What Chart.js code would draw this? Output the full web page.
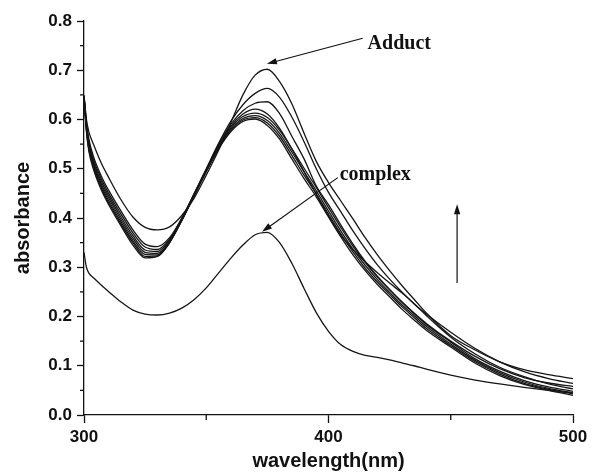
<!DOCTYPE html>
<html>
<head>
<meta charset="utf-8">
<script src="https://cdn.jsdelivr.net/npm/chart.js@4/dist/chart.umd.min.js"></script>
<style>
  html, body { margin: 0; padding: 0; background: #fff; }
  #wrap { width: 593px; height: 473px; }
</style>
</head>
<body>
<div id="wrap"><canvas id="spectraChart" width="593" height="473"></canvas></div>
<script>
// wavelength grid (nm), denser near 300 where the spectra fall steeply
var wavelengths = [300, 301, 302, 304, 307, 310, 315, 320, 325, 330, 335, 340, 345, 350, 355, 360, 365, 370, 375, 380,
    385, 390, 395, 400, 405, 410, 415, 420, 425, 430, 435, 440, 450, 460, 470, 480, 490, 500];

// absorbance of the starting complex
var complexAbs = [0.330, 0.300, 0.288, 0.278, 0.264, 0.251, 0.230, 0.213, 0.205, 0.203, 0.207, 0.217, 0.234, 0.258, 0.288, 0.318, 0.345, 0.366, 0.371, 0.350,
    0.308, 0.257, 0.208, 0.170, 0.143, 0.129, 0.121, 0.117, 0.112, 0.106, 0.100, 0.093, 0.081, 0.071, 0.063, 0.056, 0.050, 0.045];

// titration scans, first to last
var scan1 = [0.645, 0.575, 0.535, 0.497, 0.458, 0.428, 0.385, 0.345, 0.319, 0.322, 0.350, 0.395, 0.445, 0.495, 0.540, 0.575, 0.596, 0.601, 0.588, 0.560,
    0.520, 0.480, 0.443, 0.402, 0.362, 0.325, 0.293, 0.265, 0.240, 0.215, 0.193, 0.172, 0.138, 0.105, 0.080, 0.062, 0.050, 0.040];
var scan2 = [0.645, 0.578, 0.539, 0.501, 0.462, 0.432, 0.389, 0.350, 0.322, 0.323, 0.350, 0.395, 0.445, 0.495, 0.541, 0.577, 0.599, 0.604, 0.593, 0.566,
    0.527, 0.487, 0.449, 0.408, 0.368, 0.331, 0.298, 0.270, 0.245, 0.220, 0.198, 0.176, 0.141, 0.108, 0.083, 0.064, 0.052, 0.043];
var scan3 = [0.646, 0.581, 0.543, 0.505, 0.466, 0.436, 0.393, 0.354, 0.326, 0.325, 0.351, 0.396, 0.445, 0.495, 0.542, 0.580, 0.602, 0.608, 0.598, 0.572,
    0.534, 0.494, 0.455, 0.414, 0.374, 0.337, 0.304, 0.275, 0.249, 0.224, 0.202, 0.180, 0.144, 0.111, 0.086, 0.067, 0.054, 0.045];
var scan4 = [0.646, 0.584, 0.547, 0.509, 0.470, 0.441, 0.398, 0.359, 0.330, 0.328, 0.352, 0.396, 0.446, 0.496, 0.544, 0.583, 0.606, 0.613, 0.604, 0.578,
    0.541, 0.501, 0.462, 0.421, 0.381, 0.343, 0.310, 0.280, 0.254, 0.229, 0.206, 0.184, 0.148, 0.114, 0.089, 0.070, 0.057, 0.048];
var scan5 = [0.647, 0.587, 0.551, 0.513, 0.475, 0.446, 0.403, 0.364, 0.335, 0.332, 0.355, 0.398, 0.447, 0.497, 0.546, 0.586, 0.611, 0.621, 0.611, 0.582,
    0.540, 0.494, 0.448, 0.404, 0.366, 0.336, 0.311, 0.289, 0.268, 0.248, 0.226, 0.202, 0.158, 0.124, 0.097, 0.078, 0.063, 0.053];
var scan6 = [0.647, 0.590, 0.555, 0.518, 0.480, 0.451, 0.409, 0.370, 0.341, 0.336, 0.357, 0.399, 0.448, 0.498, 0.548, 0.590, 0.618, 0.633, 0.636, 0.612,
    0.566, 0.520, 0.465, 0.427, 0.386, 0.347, 0.312, 0.282, 0.255, 0.230, 0.207, 0.186, 0.150, 0.119, 0.094, 0.076, 0.065, 0.058];
var scan7 = [0.648, 0.594, 0.560, 0.523, 0.486, 0.457, 0.415, 0.376, 0.347, 0.342, 0.360, 0.400, 0.449, 0.500, 0.551, 0.596, 0.630, 0.653, 0.663, 0.645,
    0.605, 0.555, 0.500, 0.452, 0.413, 0.374, 0.338, 0.305, 0.276, 0.250, 0.226, 0.205, 0.168, 0.135, 0.108, 0.088, 0.074, 0.064];
var adductAbs = [0.649, 0.600, 0.575, 0.548, 0.512, 0.483, 0.438, 0.402, 0.381, 0.376, 0.382, 0.405, 0.440, 0.487, 0.537, 0.593, 0.650, 0.690, 0.702, 0.677,
    0.632, 0.572, 0.515, 0.472, 0.435, 0.398, 0.360, 0.325, 0.293, 0.263, 0.235, 0.207, 0.161, 0.132, 0.108, 0.092, 0.082, 0.074];

var xTicks = [300, 400, 500];
var xMinorTicks = [350, 450];
var yMinorTicks = [0.05, 0.15, 0.25, 0.35, 0.45, 0.55, 0.65, 0.75];

var labelFont = { family: 'Liberation Sans, Arial, sans-serif', size: 17, weight: 'bold' };
var titleFont = { family: 'Liberation Sans, Arial, sans-serif', size: 20, weight: 'bold' };
var noteFont = 'bold 20px "Liberation Serif", "Times New Roman", serif';

function toPoints(values) {
    return wavelengths.map(function (w, i) { return { x: w, y: values[i] }; });
}

function lineSet(label, values) {
    return {
        label: label,
        data: toPoints(values),
        borderColor: '#161616',
        borderWidth: 1.3,
        pointRadius: 0,
        fill: false,
        cubicInterpolationMode: 'monotone'
    };
}

// arrow from (x1,y1) to (x2,y2) given in data units, head at the end
function drawArrow(ctx, chart, x1, y1, x2, y2) {
    var sx = chart.scales.x, sy = chart.scales.y;
    var ax = sx.getPixelForValue(x1), ay = sy.getPixelForValue(y1);
    var bx = sx.getPixelForValue(x2), by = sy.getPixelForValue(y2);
    var ang = Math.atan2(by - ay, bx - ax);
    var len = 10, half = 3.2;
    ctx.beginPath();
    ctx.moveTo(ax, ay);
    ctx.lineTo(bx - Math.cos(ang) * len * 0.8, by - Math.sin(ang) * len * 0.8);
    ctx.stroke();
    ctx.beginPath();
    ctx.moveTo(bx, by);
    ctx.lineTo(bx - Math.cos(ang) * len - Math.sin(ang) * half, by - Math.sin(ang) * len + Math.cos(ang) * half);
    ctx.lineTo(bx - Math.cos(ang) * len + Math.sin(ang) * half, by - Math.sin(ang) * len - Math.cos(ang) * half);
    ctx.closePath();
    ctx.fill();
}

var annotations = {
    id: 'annotations',
    afterDraw: function (chart) {
        var ctx = chart.ctx, sx = chart.scales.x, sy = chart.scales.y;
        ctx.save();
        ctx.strokeStyle = '#111';
        ctx.fillStyle = '#111';
        ctx.lineWidth = 1.3;

        // minor ticks
        yMinorTicks.forEach(function (v) {
            var py = sy.getPixelForValue(v);
            ctx.beginPath();
            ctx.moveTo(sx.left - 4, py);
            ctx.lineTo(sx.left, py);
            ctx.stroke();
        });
        xMinorTicks.forEach(function (v) {
            var px = sx.getPixelForValue(v);
            ctx.beginPath();
            ctx.moveTo(px, sy.bottom);
            ctx.lineTo(px, sy.bottom + 5);
            ctx.stroke();
        });

        // labels with pointers
        ctx.lineWidth = 1.2;
        drawArrow(ctx, chart, 414, 0.765, 374.8, 0.713);
        drawArrow(ctx, chart, 403.8, 0.482, 372.8, 0.372);
        drawArrow(ctx, chart, 452.6, 0.268, 452.6, 0.428);

        ctx.font = noteFont;
        ctx.textBaseline = 'middle';
        ctx.textAlign = 'left';
        ctx.fillText('Adduct', sx.getPixelForValue(416), sy.getPixelForValue(0.753));
        ctx.fillText('complex', sx.getPixelForValue(404.6), sy.getPixelForValue(0.488));
        ctx.restore();
    }
};

var ctx = document.getElementById('spectraChart').getContext('2d');
new Chart(ctx, {
    type: 'line',
    data: {
        datasets: [
            lineSet('complex', complexAbs),
            lineSet('scan 1', scan1),
            lineSet('scan 2', scan2),
            lineSet('scan 3', scan3),
            lineSet('scan 4', scan4),
            lineSet('scan 5', scan5),
            lineSet('scan 6', scan6),
            lineSet('scan 7', scan7),
            lineSet('Adduct', adductAbs)
        ]
    },
    options: {
        responsive: false,
        animation: false,
        layout: { padding: { top: 21, right: 20, left: 0, bottom: 0 } },
        plugins: {
            legend: { display: false },
            tooltip: { enabled: false }
        },
        scales: {
            x: {
                type: 'linear',
                min: 300,
                max: 500,
                afterBuildTicks: function (scale) {
                    scale.ticks = xTicks.map(function (v) { return { value: v }; });
                },
                afterFit: function (scale) { scale.height = 58; },
                ticks: { font: labelFont, color: '#111', padding: 4, maxRotation: 0 },
                grid: { drawOnChartArea: false, tickLength: 8, tickColor: '#111', tickWidth: 1.3 },
                border: { color: '#111', width: 1.3 },
                title: { display: true, text: 'wavelength(nm)', font: titleFont, color: '#111', padding: { top: 0, bottom: 0 } }
            },
            y: {
                min: 0,
                max: 0.8,
                ticks: {
                    stepSize: 0.1,
                    font: labelFont,
                    color: '#111',
                    padding: 5,
                    callback: function (v) { return v.toFixed(1); }
                },
                afterFit: function (scale) { scale.width = 84; },
                grid: { drawOnChartArea: false, tickLength: 7, tickColor: '#111', tickWidth: 1.3 },
                border: { color: '#111', width: 1.3 },
                title: { display: true, text: 'absorbance', font: titleFont, color: '#111', padding: { top: 11, bottom: 0 } }
            }
        }
    },
    plugins: [annotations]
});
</script>
</body>
</html>
